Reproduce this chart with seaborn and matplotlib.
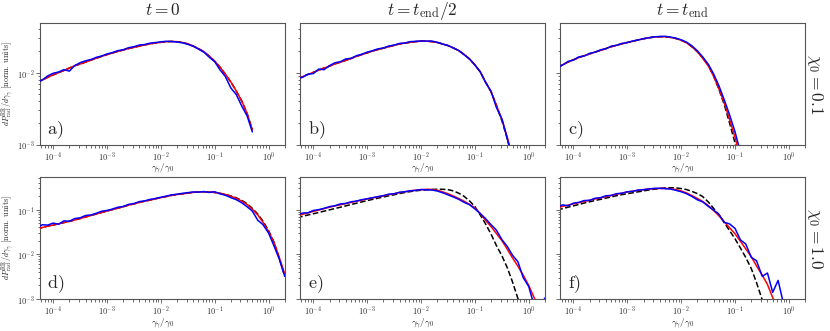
import matplotlib as mpl
mpl.use('Agg')
import matplotlib.pyplot as plt
import numpy as np
import seaborn as sns
from matplotlib.ticker import FuncFormatter, LogLocator

SPINE_COLOR = '#555555'
FIT_COLOR = '#ff0000'
SIM_COLOR = '#0000ff'
THEORY_COLOR = 'black'

# photon energy bins gamma_gamma / gamma_0 (shared by every panel)
gamma_bins = [5.0e-5, 6.3e-5, 7.9e-5,
              1.0e-4, 1.26e-4, 1.58e-4, 2.0e-4, 2.5e-4, 3.2e-4, 4.0e-4, 5.0e-4, 6.3e-4, 7.9e-4,
              1.0e-3, 1.26e-3, 1.58e-3, 2.0e-3, 2.5e-3, 3.2e-3, 4.0e-3, 5.0e-3, 6.3e-3, 7.9e-3,
              1.0e-2, 1.26e-2, 1.58e-2, 2.0e-2, 2.5e-2, 3.2e-2, 4.0e-2, 5.0e-2, 6.3e-2, 7.9e-2,
              0.1, 0.126, 0.158, 0.2, 0.25, 0.32, 0.4, 0.5, 0.63, 0.79,
              1.0, 1.26, 1.58, 2.0]

# a) chi0 = 0.1, t = 0
fit_a = [7.3e-3, 7.9e-3, 8.6e-3, 9.3e-3, 1.0e-2, 1.07e-2, 1.16e-2, 1.245e-2, 1.32e-2, 1.40e-2,
         1.49e-2, 1.585e-2, 1.68e-2, 1.78e-2, 1.875e-2, 1.97e-2, 2.065e-2, 2.16e-2, 2.25e-2, 2.34e-2,
         2.43e-2, 2.51e-2, 2.58e-2, 2.64e-2, 2.69e-2, 2.72e-2, 2.69e-2, 2.63e-2, 2.51e-2, 2.34e-2,
         2.16e-2, 1.95e-2, 1.70e-2, 1.445e-2, 1.19e-2, 9.5e-3, 7.4e-3, 5.6e-3, 4.0e-3, 2.7e-3, 1.6e-3]
sim_a = [7.4e-3, 7.9e-3, 9.0e-3, 9.8e-3, 1.02e-2, 1.10e-2, 1.05e-2, 1.25e-2, 1.38e-2, 1.46e-2,
         1.52e-2, 1.63e-2, 1.70e-2, 1.82e-2, 1.90e-2, 2.02e-2, 2.08e-2, 2.22e-2, 2.30e-2, 2.42e-2,
         2.46e-2, 2.57e-2, 2.62e-2, 2.68e-2, 2.73e-2, 2.70e-2, 2.67e-2, 2.60e-2, 2.47e-2, 2.33e-2,
         2.12e-2, 1.93e-2, 1.64e-2, 1.42e-2, 1.09e-2, 8.8e-3, 6.1e-3, 5.0e-3, 3.4e-3, 2.5e-3, 1.5e-3]
theory_a = fit_a

# b) chi0 = 0.1, t = t_end/2
fit_b = [8.1e-3, 8.8e-3, 9.4e-3, 1.01e-2, 1.08e-2, 1.16e-2, 1.23e-2, 1.32e-2, 1.40e-2, 1.48e-2,
         1.57e-2, 1.68e-2, 1.78e-2, 1.88e-2, 2.0e-2, 2.09e-2, 2.19e-2, 2.29e-2, 2.40e-2, 2.51e-2,
         2.57e-2, 2.64e-2, 2.70e-2, 2.74e-2, 2.74e-2, 2.70e-2, 2.63e-2, 2.51e-2, 2.37e-2, 2.21e-2,
         2.02e-2, 1.80e-2, 1.55e-2, 1.29e-2, 1.02e-2, 7.4e-3, 5.4e-3, 3.55e-3, 2.19e-3, 1.26e-3, 6.6e-4]
sim_b = [8.3e-3, 8.6e-3, 9.5e-3, 9.7e-3, 1.12e-2, 1.10e-2, 1.25e-2, 1.37e-2, 1.42e-2, 1.55e-2,
         1.58e-2, 1.72e-2, 1.80e-2, 1.93e-2, 2.02e-2, 2.14e-2, 2.20e-2, 2.34e-2, 2.42e-2, 2.55e-2,
         2.58e-2, 2.70e-2, 2.72e-2, 2.76e-2, 2.74e-2, 2.75e-2, 2.64e-2, 2.50e-2, 2.38e-2, 2.19e-2,
         2.04e-2, 1.77e-2, 1.56e-2, 1.27e-2, 1.03e-2, 7.3e-3, 5.5e-3, 3.3e-3, 2.25e-3, 1.2e-3, 6.5e-4]
theory_b = fit_b[:38] + [2.1e-3, 1.2e-3, 6.2e-4]

# c) chi0 = 0.1, t = t_end
fit_c = [1.16e-2, 1.29e-2, 1.40e-2, 1.51e-2, 1.62e-2, 1.72e-2, 1.82e-2, 1.93e-2, 2.04e-2, 2.16e-2,
         2.29e-2, 2.40e-2, 2.51e-2, 2.63e-2, 2.72e-2, 2.85e-2, 2.95e-2, 3.05e-2, 3.13e-2, 3.16e-2,
         3.16e-2, 3.09e-2, 2.99e-2, 2.82e-2, 2.60e-2, 2.29e-2, 1.95e-2, 1.585e-2, 1.23e-2, 8.9e-3,
         6.0e-3, 3.8e-3, 2.24e-3, 1.26e-3, 6.3e-4]
sim_c = [1.18e-2, 1.28e-2, 1.43e-2, 1.50e-2, 1.66e-2, 1.70e-2, 1.86e-2, 1.92e-2, 2.08e-2, 2.15e-2,
         2.33e-2, 2.40e-2, 2.55e-2, 2.62e-2, 2.76e-2, 2.84e-2, 2.98e-2, 3.05e-2, 3.15e-2, 3.18e-2,
         3.20e-2, 3.12e-2, 3.02e-2, 2.86e-2, 2.65e-2, 2.36e-2, 2.01e-2, 1.66e-2, 1.30e-2, 9.6e-3,
         6.6e-3, 4.2e-3, 2.6e-3, 1.5e-3, 7.8e-4]
theory_c = fit_c[:27] + [1.62e-2, 1.27e-2, 9.0e-3, 5.9e-3, 3.6e-3, 2.0e-3, 1.05e-3, 5.0e-4]

# d) chi0 = 1.0, t = 0
fit_d = [3.72e-2, 3.98e-2, 4.27e-2, 4.52e-2, 4.81e-2, 5.13e-2, 5.47e-2, 5.86e-2, 6.34e-2, 6.84e-2,
         7.40e-2, 8.0e-2, 8.63e-2, 9.33e-2, 0.1005, 0.108, 0.1164, 0.126, 0.135, 0.1455,
         0.155, 0.164, 0.175, 0.186, 0.197, 0.209, 0.219, 0.226, 0.2355, 0.244,
         0.248, 0.251, 0.250, 0.243, 0.232, 0.219, 0.1995, 0.180, 0.155, 0.130,
         0.102, 7.6e-2, 5.2e-2, 3.24e-2, 1.86e-2, 8.5e-3, 3.6e-3]
sim_d = [3.9e-2, 4.6e-2, 4.5e-2, 5.0e-2, 4.7e-2, 5.6e-2, 5.5e-2, 6.3e-2, 6.6e-2, 7.4e-2,
         7.6e-2, 8.3e-2, 9.2e-2, 9.6e-2, 0.103, 0.113, 0.118, 0.131, 0.138, 0.152,
         0.157, 0.170, 0.178, 0.190, 0.201, 0.215, 0.222, 0.232, 0.241, 0.250,
         0.246, 0.255, 0.243, 0.252, 0.226, 0.210, 0.186, 0.168, 0.142, 0.116,
         9.3e-2, 5.8e-2, 4.6e-2, 3.0e-2, 1.55e-2, 7.8e-3, 3.2e-3]
theory_d = fit_d[:35] + [0.221, 0.203, 0.185, 0.161, 0.136, 0.107, 8.0e-2, 5.5e-2, 3.4e-2, 1.88e-2,
                         8.3e-3, 3.2e-3]

# e) chi0 = 1.0, t = t_end/2
fit_e = [7.31e-2, 7.87e-2, 8.47e-2, 9.12e-2, 9.82e-2, 0.1054, 0.1135, 0.1213, 0.1288, 0.1368,
         0.1452, 0.1542, 0.1637, 0.1734, 0.1832, 0.1936, 0.2046, 0.2163, 0.2286, 0.241,
         0.252, 0.263, 0.2735, 0.281, 0.285, 0.284, 0.272, 0.251, 0.2265, 0.2018,
         0.178, 0.155, 0.132, 0.1096, 8.13e-2, 5.75e-2, 4.17e-2, 2.95e-2, 2.0e-2, 1.29e-2,
         8.3e-3, 5.4e-3, 3.4e-3, 2.0e-3, 1.07e-3, 5.6e-4]
sim_e = [7.6e-2, 8.4e-2, 8.5e-2, 9.6e-2, 0.100, 0.107, 0.117, 0.122, 0.135, 0.138,
         0.150, 0.156, 0.167, 0.176, 0.186, 0.196, 0.206, 0.222, 0.228, 0.246,
         0.252, 0.265, 0.270, 0.283, 0.278, 0.276, 0.262, 0.240, 0.214, 0.192,
         0.171, 0.146, 0.130, 0.104, 8.2e-2, 6.3e-2, 4.6e-2, 3.5e-2, 2.1e-2, 1.5e-2,
         9.5e-3, 6.8e-3, 3.0e-3, 1.9e-3, 7e-4, 6e-4, 1.05e-3]
theory_e = [6.61e-2, 7.08e-2, 7.59e-2, 8.09e-2, 8.65e-2, 9.25e-2, 9.89e-2, 0.106, 0.1135, 0.1216,
            0.1303, 0.1393, 0.1493, 0.1596, 0.170, 0.1807, 0.1923, 0.204, 0.2168, 0.230,
            0.2427, 0.254, 0.264, 0.273, 0.280, 0.284, 0.2864, 0.2864, 0.2805, 0.263,
            0.2344, 0.1995, 0.1585, 0.1175, 7.59e-2, 4.79e-2, 2.82e-2, 1.585e-2, 9.1e-3, 5.0e-3,
            2.4e-3, 1.02e-3, 4.0e-4]

# f) chi0 = 1.0, t = t_end
fit_f = [0.1112, 0.1186, 0.1265, 0.135, 0.1435, 0.1531, 0.163, 0.1734, 0.184, 0.196,
         0.2084, 0.2218, 0.2333, 0.2483, 0.260, 0.271, 0.2818, 0.2904, 0.2965, 0.2992,
         0.2992, 0.295, 0.283, 0.263, 0.237, 0.2065, 0.178, 0.153, 0.123, 9.55e-2,
         7.3e-2, 5.37e-2, 3.94e-2, 2.88e-2, 1.95e-2, 1.32e-2, 8.9e-3, 5.5e-3, 3.4e-3, 2.1e-3,
         1.07e-3, 5.6e-4]
sim_f = [0.115, 0.128, 0.122, 0.140, 0.146, 0.160, 0.162, 0.180, 0.186, 0.205,
         0.208, 0.228, 0.234, 0.252, 0.258, 0.275, 0.280, 0.292, 0.300, 0.302,
         0.296, 0.290, 0.272, 0.252, 0.228, 0.198, 0.166, 0.150, 0.118, 0.098,
         0.079, 0.052, 0.048, 0.038, 0.021, 0.017, 8.5e-3, 7.2e-3, 3.2e-3, 3.8e-3,
         1.4e-3, 2.6e-3, 8.0e-4]
theory_f = [9.82e-2, 0.1057, 0.1135, 0.1219, 0.1309, 0.1406, 0.1503, 0.1603, 0.1706, 0.1816,
            0.1932, 0.2056, 0.2173, 0.228, 0.2393, 0.2512, 0.263, 0.2767, 0.288, 0.2985,
            0.3069, 0.3105, 0.3076, 0.2972, 0.2818, 0.257, 0.229, 0.1972, 0.148, 0.107,
            7.76e-2, 5.13e-2, 3.39e-2, 2.22e-2, 1.38e-2, 8.5e-3, 4.8e-3, 2.34e-3, 9.5e-4, 4.0e-4]

panels = [
    ('a)', fit_a, sim_a, theory_a),
    ('b)', fit_b, sim_b, theory_b),
    ('c)', fit_c, sim_c, theory_c),
    ('d)', fit_d, sim_d, theory_d),
    ('e)', fit_e, sim_e, theory_e),
    ('f)', fit_f, sim_f, theory_f),
]
col_titles = [r'$t = 0$', r'$t = t_{\rm end}/2$', r'$t = t_{\rm end}$']
row_titles = [r'$\chi_0 = 0.1$', r'$\chi_0 = 1.0$']
row_ylim = [(1e-3, 4.9e-2), (1e-3, 0.53)]
XLIM = (5.7e-5, 2.0)


def format_axes(ax):
    for spine in ax.spines.values():
        spine.set_color(SPINE_COLOR)
        spine.set_linewidth(0.8)
    ax.tick_params(which='both', direction='out', color=SPINE_COLOR,
                   labelsize=6, labelcolor='#333333', width=0.6)
    ax.tick_params(which='major', length=3, pad=1)
    ax.tick_params(which='minor', length=1.8)
    ax.xaxis.set_major_locator(LogLocator(base=10, numticks=10))
    ax.xaxis.set_minor_locator(LogLocator(base=10, subs=np.arange(2, 10), numticks=20))
    ax.yaxis.set_major_locator(LogLocator(base=10, numticks=10))
    ax.yaxis.set_minor_locator(LogLocator(base=10, subs=np.arange(2, 10), numticks=20))
    fmt = FuncFormatter(lambda v, p: r'$10^{%d}$' % int(round(np.log10(v))))
    ax.xaxis.set_major_formatter(fmt)
    ax.yaxis.set_major_formatter(fmt)
    return ax


def draw(ax, y, **kw):
    sns.lineplot(x=gamma_bins[:len(y)], y=y, ax=ax, estimator=None, sort=False,
                 legend=False, **kw)


sns.set_style('ticks')
plt.rcParams['mathtext.fontset'] = 'cm'
plt.rcParams['font.family'] = ['DejaVu Serif']

fig, axes = plt.subplots(2, 3, figsize=(8.3, 3.31), dpi=100, sharey='row')
fig.subplots_adjust(left=0.0482, right=0.97, top=0.9305, bottom=0.097,
                    wspace=0.063, hspace=0.27)

for i, (letter, fit, sim, theory) in enumerate(panels):
    row, col = divmod(i, 3)
    ax = axes[row, col]
    ax.set_xscale('log')
    ax.set_yscale('log')

    draw(ax, theory, color=THEORY_COLOR, lw=1.1, linestyle='--', zorder=2)
    draw(ax, fit, color=FIT_COLOR, lw=1.1, zorder=3)
    draw(ax, sim, color=SIM_COLOR, lw=1.1, zorder=4)

    ax.set_xlim(*XLIM)
    ax.set_ylim(*row_ylim[row])
    format_axes(ax)

    ax.set_xlabel(r'$\gamma_\gamma/\gamma_0$', fontsize=6.8, labelpad=-0.5)
    if col == 0:
        ax.set_ylabel(r'$dP^{\rm RR}_{\rm rad}/d\gamma_\gamma\ \mathrm{[norm.\ units]}$',
                      fontsize=5.8)
        ax.yaxis.set_label_coords(-0.1, 0.5)
    else:
        ax.set_ylabel('')
    if row == 0:
        ax.set_title(col_titles[col], fontsize=12.5, pad=6)

    ax.text(0.03, 0.12, r'$\mathrm{' + letter + '}$', transform=ax.transAxes,
            fontsize=13, ha='left', va='center')

for row in range(2):
    pos = axes[row, 2].get_position()
    fig.text(0.982, (pos.y0 + pos.y1) / 2, row_titles[row], rotation=-90,
             fontsize=12.5, ha='center', va='center')

plt.savefig('out.png', dpi=100)
